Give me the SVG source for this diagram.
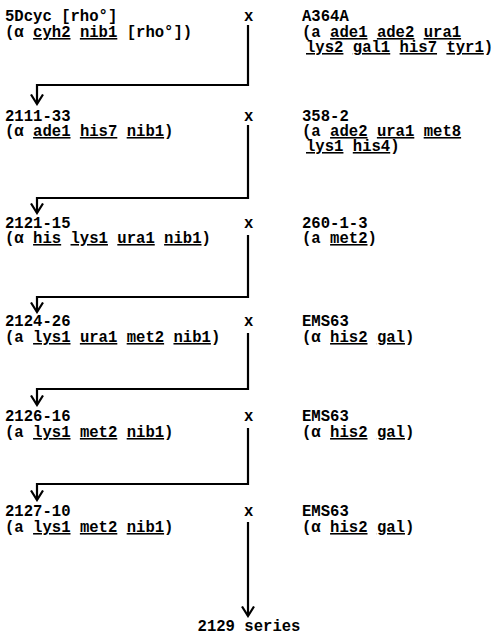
<svg xmlns="http://www.w3.org/2000/svg" width="496" height="635" viewBox="0 0 496 635">
<defs>
<style>
text{font-family:"Liberation Mono","DejaVu Sans Mono",monospace;font-weight:bold;font-size:15.6px;fill:#000;white-space:pre}
.u{text-decoration:underline}
.c{fill:none;stroke:#000;stroke-width:2.2}
</style>
<marker id="ah" viewBox="0 0 12 14" refX="10.5" refY="7" markerWidth="12" markerHeight="14" markerUnits="userSpaceOnUse" orient="auto">
<path d="M1,1 L10.5,7 L1,13" fill="none" stroke="#000" stroke-width="2.2"/>
</marker>
</defs>
<rect width="496" height="635" fill="#fff"/>
<g id="connectors">
<path class="c" d="M248,25 V85 H37 V104" marker-end="url(#ah)"/>
<path class="c" d="M248,125 V198 H37 V213" marker-end="url(#ah)"/>
<path class="c" d="M248,235 V297 H37 V312" marker-end="url(#ah)"/>
<path class="c" d="M248,333 V389 H37 V405" marker-end="url(#ah)"/>
<path class="c" d="M248,428 V484 H37 V500" marker-end="url(#ah)"/>
<path class="c" d="M248,522 V616" marker-end="url(#ah)"/>
</g>
<g id="strain-5Dcyc"><text x="5" y="21">5Dcyc [rho°]</text><text x="5" y="37">(α <tspan class="u">cyh2</tspan> <tspan class="u">nib1</tspan> [rho°])</text></g>
<g id="cross-1"><text x="244" y="21">x</text></g>
<g id="strain-A364A"><text x="302" y="21">A364A</text><text x="302" y="37">(a <tspan class="u">ade1</tspan> <tspan class="u">ade2</tspan> <tspan class="u">ura1</tspan></text><text x="306" y="52"><tspan class="u">lys2</tspan> <tspan class="u">gal1</tspan> <tspan class="u">his7</tspan> <tspan class="u">tyr1</tspan>)</text></g>
<g id="strain-2111-33"><text x="5" y="121">2111-33</text><text x="5" y="136">(α <tspan class="u">ade1</tspan> <tspan class="u">his7</tspan> <tspan class="u">nib1</tspan>)</text></g>
<g id="cross-2"><text x="244" y="121">x</text></g>
<g id="strain-358-2"><text x="302" y="121">358-2</text><text x="302" y="136">(a <tspan class="u">ade2</tspan> <tspan class="u">ura1</tspan> <tspan class="u">met8</tspan></text><text x="306" y="151"><tspan class="u">lys1</tspan> <tspan class="u">his4</tspan>)</text></g>
<g id="strain-2121-15"><text x="5" y="228">2121-15</text><text x="5" y="243">(α <tspan class="u">his</tspan> <tspan class="u">lys1</tspan> <tspan class="u">ura1</tspan> <tspan class="u">nib1</tspan>)</text></g>
<g id="cross-3"><text x="244" y="228">x</text></g>
<g id="strain-260-1-3"><text x="302" y="228">260-1-3</text><text x="302" y="243">(a <tspan class="u">met2</tspan>)</text></g>
<g id="strain-2124-26"><text x="5" y="326">2124-26</text><text x="5" y="342">(a <tspan class="u">lys1</tspan> <tspan class="u">ura1</tspan> <tspan class="u">met2</tspan> <tspan class="u">nib1</tspan>)</text></g>
<g id="cross-4"><text x="244" y="326">x</text></g>
<g id="strain-EMS63-1"><text x="302" y="326">EMS63</text><text x="302" y="342">(α <tspan class="u">his2</tspan> <tspan class="u">gal</tspan>)</text></g>
<g id="strain-2126-16"><text x="5" y="421">2126-16</text><text x="5" y="437">(a <tspan class="u">lys1</tspan> <tspan class="u">met2</tspan> <tspan class="u">nib1</tspan>)</text></g>
<g id="cross-5"><text x="244" y="421">x</text></g>
<g id="strain-EMS63-2"><text x="302" y="421">EMS63</text><text x="302" y="437">(α <tspan class="u">his2</tspan> <tspan class="u">gal</tspan>)</text></g>
<g id="strain-2127-10"><text x="5" y="516">2127-10</text><text x="5" y="532">(a <tspan class="u">lys1</tspan> <tspan class="u">met2</tspan> <tspan class="u">nib1</tspan>)</text></g>
<g id="cross-6"><text x="244" y="516">x</text></g>
<g id="strain-EMS63-3"><text x="302" y="516">EMS63</text><text x="302" y="532">(α <tspan class="u">his2</tspan> <tspan class="u">gal</tspan>)</text></g>
<g id="strain-2129"><text x="249" y="631" text-anchor="middle">2129 series</text></g>
</svg>
